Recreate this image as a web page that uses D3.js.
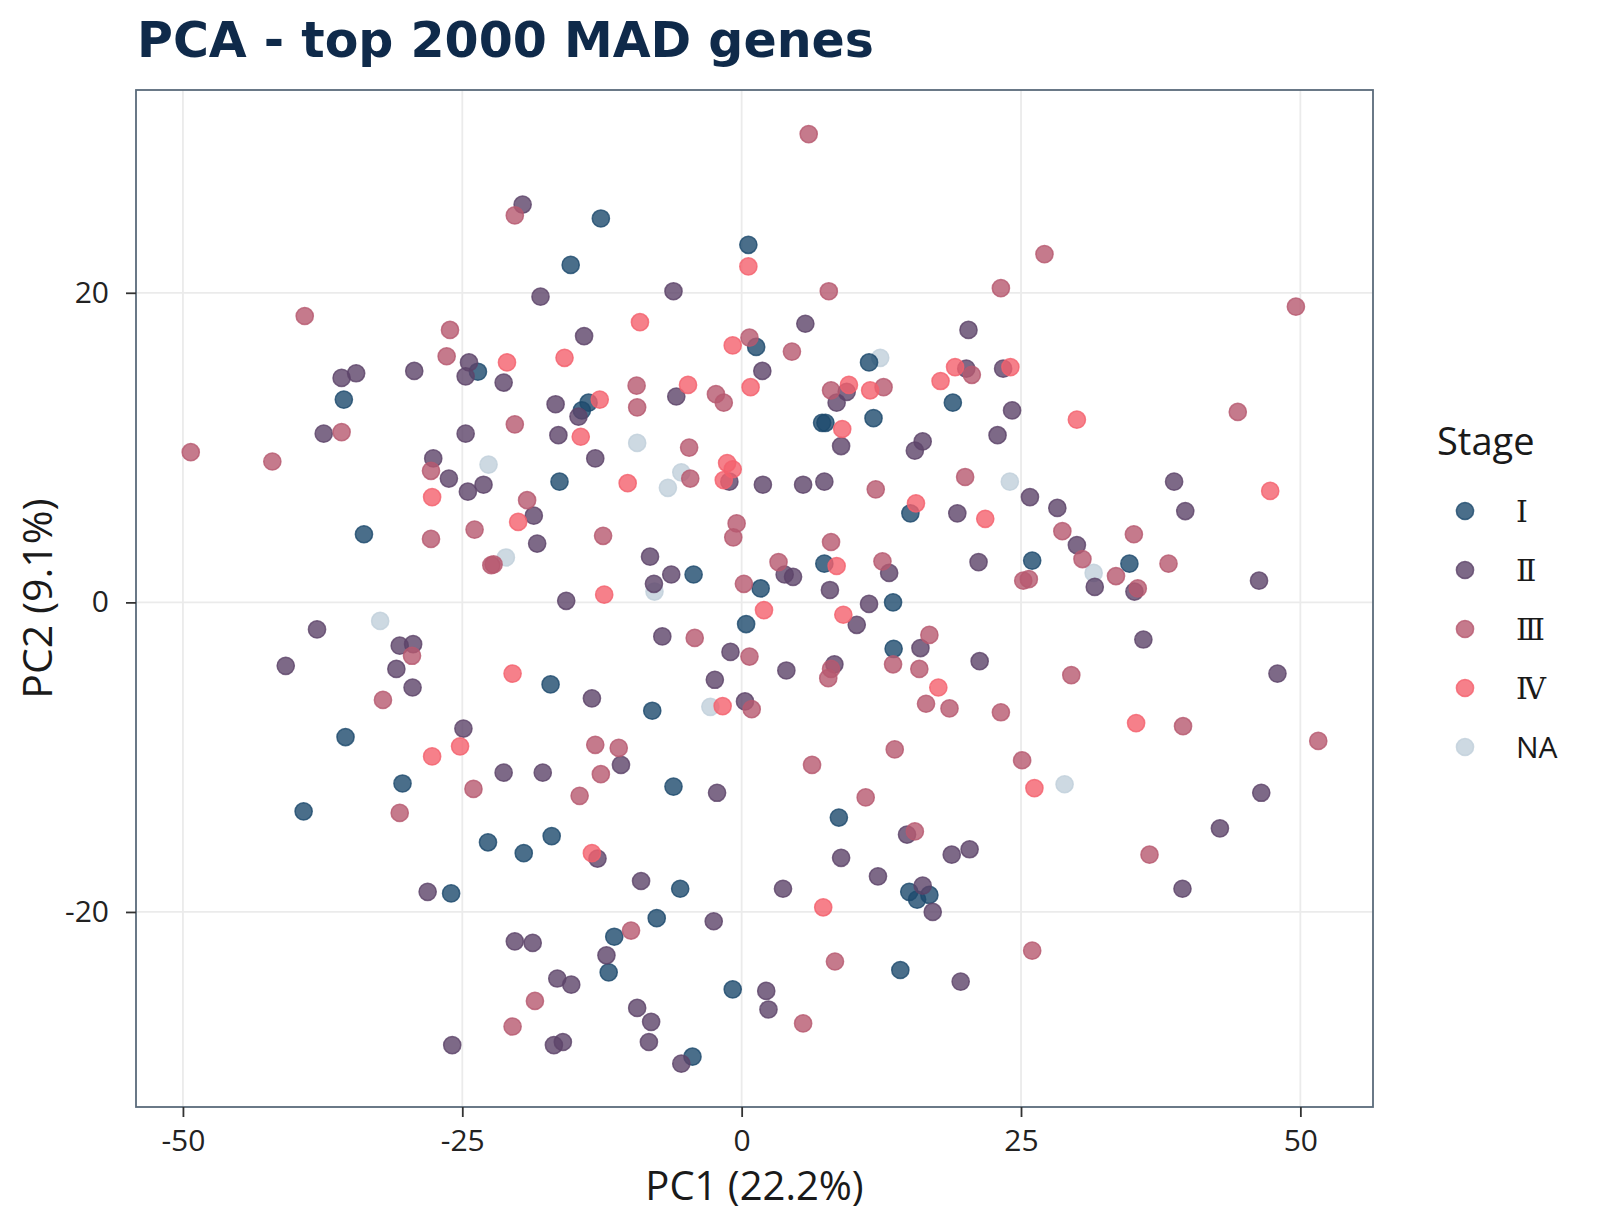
<!DOCTYPE html>
<html>
<head>
<meta charset="utf-8">
<script src="https://cdnjs.cloudflare.com/ajax/libs/d3/7.8.5/d3.min.js"></script>
<style>
  body { margin: 0; background: #fff; }
  text { font-family: "Open Sans", "DejaVu Sans", sans-serif; }
</style>
</head>
<body>
<div id="chart"></div>
<script>
// PCA coordinates, one array per stage
const stageI = [
  [-23.6, 14.9], [-35.6, 13.1], [-12.6, 24.8], [-15.3, 21.8], [0.6, 23.1], [1.3, 16.5],
  [11.4, 15.5], [18.9, 12.9], [11.8, 11.9], [7.2, 11.6], [7.5, 11.6], [-13.7, 12.9],
  [-14.3, 12.4], [-33.8, 4.4], [-16.3, 7.8], [15.1, 5.75], [-4.3, 1.8], [1.7, 0.9],
  [7.4, 2.5], [13.55, 0.0], [0.4, -1.4], [13.6, -3.0], [-8.0, -7.0], [-17.1, -5.3],
  [-35.45, -8.7], [26.0, 2.7], [34.7, 2.5], [-30.35, -11.7], [-39.2, -13.5], [-22.7, -15.5],
  [-19.5, -16.2], [-17.0, -15.1], [-26.0, -18.8], [-6.1, -11.9], [-5.5, -18.5], [-7.6, -20.4],
  [-11.4, -21.6], [-11.9, -23.9], [-4.4, -29.35], [-0.8, -25.0], [8.7, -13.9], [15.0, -18.7],
  [15.7, -19.2], [16.8, -18.9], [14.2, -23.75]
];
const stageII = [
  [-19.6, 25.7], [-18.0, 19.75], [-24.4, 15.5], [-24.7, 14.6], [-21.3, 14.2], [-35.8, 14.5],
  [-34.5, 14.8], [-29.3, 14.95], [-6.1, 20.1], [-14.1, 17.2], [5.7, 18.0], [1.85, 14.95],
  [9.4, 13.6], [8.5, 12.9], [20.1, 15.1], [-16.65, 12.8], [-14.6, 12.0], [-5.85, 13.3],
  [-16.4, 10.8], [20.3, 17.6], [23.4, 15.1], [24.2, 12.4], [22.9, 10.8], [-37.4, 10.9],
  [-24.7, 10.9], [-27.6, 9.3], [-26.2, 8.0], [-24.5, 7.15], [-23.1, 7.6], [-18.6, 5.6],
  [-18.3, 3.8], [-38.0, -1.75], [-30.6, -2.8], [-29.4, -2.7], [-40.8, -4.1], [-30.9, -4.3],
  [-29.45, -5.5], [-24.9, -8.15], [-21.3, -11.0], [-17.8, -11.0], [-13.1, 9.3], [-1.1, 7.8],
  [1.9, 7.6], [5.5, 7.6], [7.4, 7.8], [8.9, 10.1], [15.5, 9.8], [16.2, 10.4],
  [19.3, 5.75], [-8.2, 2.95], [-6.3, 1.8], [-7.85, 1.2], [-15.7, 0.1], [3.85, 1.8],
  [4.6, 1.65], [7.9, 0.8], [13.2, 1.9], [11.4, -0.1], [10.3, -1.45], [-7.1, -2.2],
  [-1.0, -3.2], [4.0, -4.4], [8.3, -4.0], [16.0, -2.95], [-2.4, -5.0], [-13.4, -6.2],
  [0.3, -6.4], [-10.8, -10.5], [25.8, 6.8], [28.25, 6.1], [30.0, 3.7], [31.6, 1.0],
  [35.15, 0.7], [21.2, 2.6], [38.7, 7.8], [39.7, 5.9], [46.3, 1.4], [35.95, -2.4],
  [21.3, -3.8], [47.95, -4.6], [-28.1, -18.7], [-20.3, -21.9], [-18.7, -22.0], [-16.5, -24.3],
  [-15.25, -24.7], [-25.9, -28.6], [-16.8, -28.6], [-16.0, -28.4], [-2.2, -12.3], [-12.9, -16.55],
  [-9.0, -18.0], [-2.5, -20.6], [-12.1, -22.8], [-9.35, -26.2], [-8.1, -27.1], [-8.3, -28.4],
  [-5.4, -29.8], [2.2, -25.1], [2.4, -26.3], [14.8, -15.0], [8.9, -16.5], [12.2, -17.7],
  [3.7, -18.5], [16.2, -18.3], [17.1, -20.0], [18.8, -16.3], [19.6, -24.5], [20.4, -15.95],
  [46.5, -12.3], [42.8, -14.6], [39.45, -18.5]
];
const stageIII = [
  [-20.3, 25.0], [-39.1, 18.5], [-26.1, 17.6], [-26.4, 15.9], [6.0, 30.25], [7.8, 20.1],
  [0.7, 17.1], [4.5, 16.2], [8.0, 13.7], [12.7, 13.9], [-9.4, 14.0], [-9.35, 12.6],
  [-2.3, 13.45], [-1.6, 12.9], [27.1, 22.5], [23.2, 20.3], [49.6, 19.1], [20.6, 14.7],
  [44.4, 12.3], [-35.8, 11.0], [-20.3, 11.5], [-49.3, 9.7], [-42.0, 9.1], [-27.8, 8.5],
  [-19.2, 6.6], [-23.9, 4.7], [-27.8, 4.1], [-22.4, 2.4], [-22.2, 2.45], [-29.5, -3.45],
  [-32.1, -6.3], [-4.7, 10.0], [-4.6, 8.0], [12.0, 7.3], [20.0, 8.1], [-0.45, 5.1],
  [-0.75, 4.2], [-12.4, 4.3], [8.0, 3.9], [3.3, 2.6], [0.2, 1.2], [12.6, 2.65],
  [-4.2, -2.3], [0.7, -3.5], [8.0, -4.3], [7.75, -4.9], [16.8, -2.1], [13.55, -4.0],
  [15.9, -4.3], [16.5, -6.55], [18.6, -6.85], [0.9, -6.9], [-13.1, -9.2], [-11.0, -9.4],
  [-12.6, -11.1], [13.7, -9.5], [6.3, -10.5], [28.7, 4.6], [30.5, 2.8], [33.5, 1.7],
  [35.45, 0.9], [35.1, 4.4], [38.2, 2.5], [25.2, 1.4], [25.7, 1.5], [29.5, -4.7],
  [23.2, -7.1], [39.5, -8.0], [51.6, -8.95], [25.1, -10.2], [-24.0, -12.05], [-30.6, -13.6],
  [-18.5, -25.75], [-20.5, -27.4], [-14.5, -12.5], [-9.9, -21.2], [5.5, -27.2], [11.1, -12.6],
  [15.5, -14.8], [8.35, -23.2], [36.5, -16.3], [26.0, -22.5]
];
const stageIV = [
  [-21.0, 15.5], [0.6, 21.7], [-9.1, 18.1], [-15.85, 15.8], [-0.8, 16.6], [0.8, 13.9],
  [17.8, 14.3], [19.1, 15.2], [9.6, 14.05], [11.5, 13.7], [9.0, 11.2], [-12.7, 13.1],
  [-4.8, 14.05], [-14.4, 10.7], [24.05, 15.2], [30.0, 11.8], [-27.7, 6.8], [-20.0, 5.2],
  [-20.5, -4.6], [-25.2, -9.3], [-27.7, -9.95], [-10.2, 7.7], [-1.3, 9.0], [-0.8, 8.6],
  [-1.6, 7.9], [15.6, 6.4], [-12.3, 0.5], [8.5, 2.35], [2.0, -0.5], [9.1, -0.8],
  [17.6, -5.5], [-1.7, -6.7], [21.8, 5.4], [47.3, 7.2], [35.3, -7.8], [-13.4, -16.2],
  [7.3, -19.7], [26.2, -12.0]
];
const stageNA = [
  [12.4, 15.8], [-22.65, 8.9], [-21.1, 2.9], [-32.35, -1.2], [-9.35, 10.3], [-5.4, 8.4],
  [-6.6, 7.4], [-7.8, 0.7], [-2.8, -6.75], [24.0, 7.8], [31.5, 1.9], [28.9, -11.75]
];

const stageKeys = ["I", "II", "III", "IV", "NA"];
const stageLabels = ["\u2160", "\u2161", "\u2162", "\u2163", "NA"];
const stageColors = ["#1d4a6d", "#5c4369", "#b6596f", "#f4606d", "#c0cfdb"];
const stagePoints = [stageI, stageII, stageIII, stageIV, stageNA];

const xTicks = [-50, -25, 0, 25, 50];
const xTickLabels = ["-50", "-25", "0", "25", "50"];
const yTicks = [-20, 0, 20];
const yTickLabels = ["-20", "0", "20"];

const W = 1600, H = 1231;
const panel = { left: 136, right: 1373, top: 90, bottom: 1107 };

const svg = d3.select("#chart").append("svg")
  .attr("width", W).attr("height", H);

const x = d3.scaleLinear().domain([-54.2, 56.5]).range([panel.left, panel.right]);
const y = d3.scaleLinear().domain([-32.6, 33.1]).range([panel.bottom, panel.top]);
const color = d3.scaleOrdinal().domain(stageKeys).range(stageColors);

// grid
svg.append("g").selectAll("line").data(xTicks).join("line")
  .attr("x1", d => x(d)).attr("x2", d => x(d))
  .attr("y1", panel.top).attr("y2", panel.bottom)
  .attr("stroke", "#ebebeb").attr("stroke-width", 1.8);
svg.append("g").selectAll("line").data(yTicks).join("line")
  .attr("y1", d => y(d)).attr("y2", d => y(d))
  .attr("x1", panel.left).attr("x2", panel.right)
  .attr("stroke", "#ebebeb").attr("stroke-width", 1.8);

// points, NA underneath
const drawOrder = [4, 0, 1, 2, 3];
const pts = [];
drawOrder.forEach(i => stagePoints[i].forEach(p => pts.push({ x: p[0], y: p[1], stage: stageKeys[i] })));

svg.append("g").selectAll("circle").data(pts).join("circle")
  .attr("cx", d => x(d.x)).attr("cy", d => y(d.y))
  .attr("r", 8.6)
  .attr("fill", d => color(d.stage)).attr("fill-opacity", 0.8)
  .attr("stroke", d => color(d.stage)).attr("stroke-opacity", 0.8)
  .attr("stroke-width", 1.5);

// panel border
svg.append("rect")
  .attr("x", panel.left).attr("y", panel.top)
  .attr("width", panel.right - panel.left).attr("height", panel.bottom - panel.top)
  .attr("fill", "none").attr("stroke", "#5a6b7b").attr("stroke-width", 1.8);

// axes
const xAxis = svg.append("g").attr("transform", `translate(0,${panel.bottom})`)
  .call(d3.axisBottom(x).tickValues(xTicks).tickFormat((d, i) => xTickLabels[i])
    .tickSize(10).tickPadding(13));
const yAxis = svg.append("g").attr("transform", `translate(${panel.left},0)`)
  .call(d3.axisLeft(y).tickValues(yTicks).tickFormat((d, i) => yTickLabels[i])
    .tickSize(10).tickPadding(17));
[xAxis, yAxis].forEach(a => {
  a.select(".domain").remove();
  a.selectAll(".tick line").attr("stroke", "#333").attr("stroke-width", 1.8);
  a.selectAll(".tick text").attr("fill", "#222").style("font-size", "30px")
    .style("font-family", '"Open Sans", "DejaVu Sans", sans-serif');
});

// titles
svg.append("text")
  .attr("x", 137).attr("y", 57)
  .style("font-family", '"DejaVu Sans", sans-serif')
  .style("font-weight", "bold").style("font-size", "49px")
  .attr("fill", "#0f2a4a")
  .text("PCA - top 2000 MAD genes");

svg.append("text")
  .attr("x", (panel.left + panel.right) / 2).attr("y", 1200)
  .attr("text-anchor", "middle").style("font-size", "40px").attr("fill", "#1a1a1a")
  .text("PC1 (22.2%)");

svg.append("text")
  .attr("transform", `translate(52,${(panel.top + panel.bottom) / 2}) rotate(-90)`)
  .attr("text-anchor", "middle").style("font-size", "41px").attr("fill", "#1a1a1a")
  .text("PC2 (9.1%)");

// legend
const legend = svg.append("g");
legend.append("text")
  .attr("x", 1437).attr("y", 455)
  .style("font-size", "38px").attr("fill", "#1a1a1a")
  .text("Stage");
const item = legend.selectAll("g.item").data(stageKeys).join("g")
  .attr("class", "item")
  .attr("transform", (d, i) => `translate(1465,${511 + i * 59})`);
item.append("circle")
  .attr("r", 8.6)
  .attr("fill", d => color(d)).attr("fill-opacity", 0.8)
  .attr("stroke", d => color(d)).attr("stroke-opacity", 0.8)
  .attr("stroke-width", 1.5);
item.append("text")
  .attr("x", 51).attr("dy", "0.36em")
  .style("font-size", "30px").attr("fill", "#1a1a1a")
  .style("font-family", d => d === "NA" ? '"Open Sans", sans-serif' : '"DejaVu Serif", "Noto Sans CJK JP", serif')
  .text((d, i) => stageLabels[i]);
</script>
</body>
</html>
